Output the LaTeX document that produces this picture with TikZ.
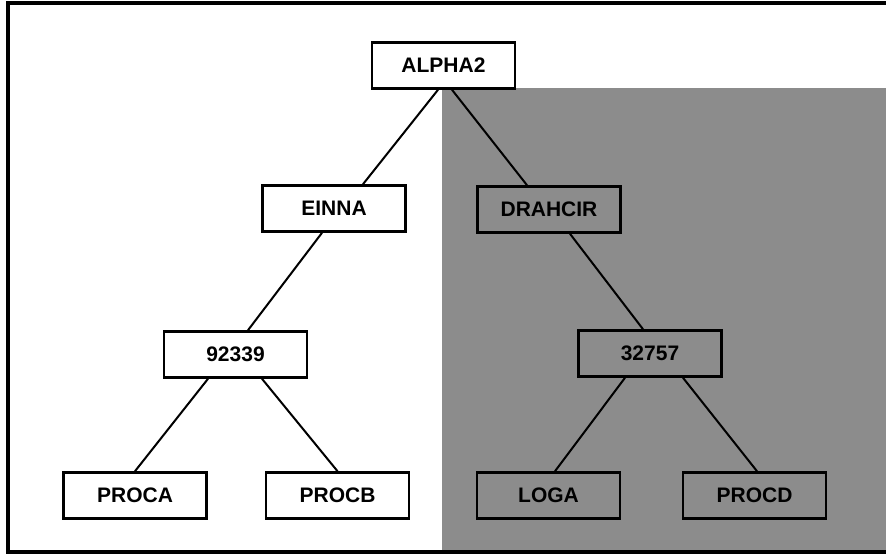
\documentclass[tikz,border=0pt]{standalone}
\usepackage{fontspec}
\setmainfont{Liberation Sans}
\begin{document}
\begin{tikzpicture}[x=1pt,y=-1pt,
  box/.style={draw=black,line width=2.6pt,minimum width=143pt,minimum height=46pt,inner sep=0pt,font=\fontsize{21}{25}\selectfont\bfseries},
  wbox/.style={box,fill=white},
  link/.style={draw=black,line width=2pt}]
\useasboundingbox (0,0) rectangle (886,556);
\fill[white] (0,0) rectangle (886,556);
% shaded region
\fill[black!45] (442,88) rectangle (886,552);
% frame
\draw[line width=3.5pt] (886,3) -- (8,3) -- (8,552) -- (886,552);
% nodes
\node[wbox] (alpha) at (443.5,65.5) {ALPHA2};
\node[wbox] (einna) at (334,208.5) {EINNA};
\node[box]  (drah)  at (549,209.5) {DRAHCIR};
\node[wbox] (n92)   at (235.5,354.5) {92339};
\node[box]  (n32)   at (650,353.5) {32757};
\node[wbox] (proca) at (135,495.5) {PROCA};
\node[wbox] (procb) at (337.5,495.5) {PROCB};
\node[box]  (loga)  at (548.5,495.5) {LOGA};
\node[box]  (procd) at (754.5,495.5) {PROCD};
% connectors
\draw[link] ([xshift=-5.5pt]alpha.south) -- ([xshift=29pt]einna.north);
\draw[link] ([xshift=8.5pt]alpha.south) -- ([xshift=-22pt]drah.north);
\draw[link] ([xshift=-12pt]einna.south) -- ([xshift=12.5pt]n92.north);
\draw[link] ([xshift=21pt]drah.south) -- ([xshift=-7pt]n32.north);
\draw[link] ([xshift=-27.5pt]n92.south) -- (proca.north);
\draw[link] ([xshift=26.5pt]n92.south) -- (procb.north);
\draw[link] ([xshift=-25pt]n32.south) -- ([xshift=6.5pt]loga.north);
\draw[link] ([xshift=33pt]n32.south) -- ([xshift=2.5pt]procd.north);
\end{tikzpicture}
\end{document}
